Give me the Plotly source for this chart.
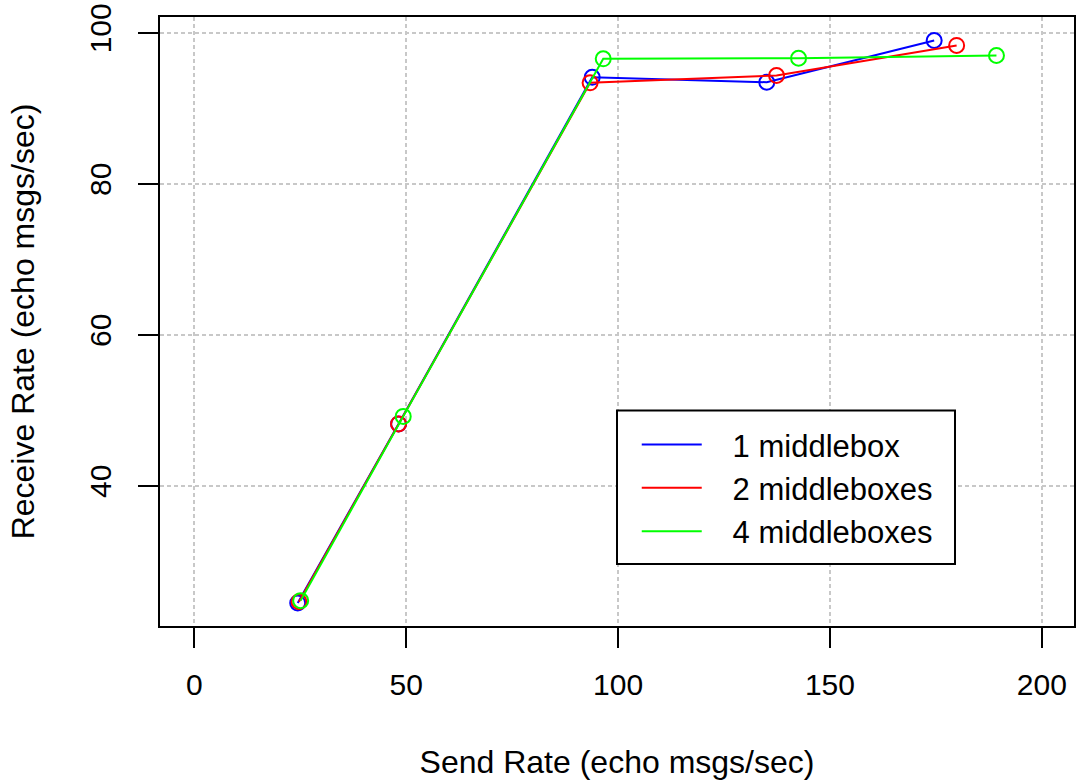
import plotly.graph_objects as go

series_names = ["1 middlebox", "2 middleboxes", "4 middleboxes"]
series_colors = ["#0000FF", "#FF0000", "#00FF00"]

send_1mb = [24.4, 48.2, 93.9, 135.1, 174.6]
recv_1mb = [24.5, 48.2, 94.1, 93.45, 98.98]

send_2mb = [24.7, 48.2, 93.4, 137.4, 179.9]
recv_2mb = [24.65, 48.2, 93.37, 94.34, 98.32]

send_4mb = [25.1, 49.3, 96.5, 142.6, 189.3]
recv_4mb = [24.8, 49.2, 96.55, 96.63, 96.99]

x_ticks = [0, 50, 100, 150, 200]
y_ticks = [40, 60, 80, 100]

FONT = "Liberation Sans, Arial, Helvetica, sans-serif"
NBSP = "\u00a0"

fig = go.Figure()
data = [(send_1mb, recv_1mb), (send_2mb, recv_2mb), (send_4mb, recv_4mb)]
for name, color, (xs, ys) in zip(series_names, series_colors, data):
    fig.add_trace(go.Scatter(x=xs, y=ys, mode="lines", name=NBSP * 3 + name,
                             line=dict(color=color, width=2)))
    fig.add_trace(go.Scatter(x=xs, y=ys, mode="markers", name=name, showlegend=False,
                             marker=dict(symbol="circle-open", size=15, color=color,
                                         line=dict(color=color, width=2))))

axis_common = dict(
    showline=True, linecolor="black", linewidth=2, mirror=True,
    ticks="outside", ticklen=20, tickwidth=2, tickcolor="black",
    showgrid=True, gridcolor="#C8C8C8", gridwidth=1.5, griddash="4px,3px",
    zeroline=False, tickfont=dict(family=FONT, size=30, color="black"),
)

fig.update_xaxes(range=[-8.1, 207.6], tickvals=x_ticks, ticktext=[str(v) for v in x_ticks],
                 title=dict(text="Send Rate (echo msgs/sec)", font=dict(family=FONT, size=32, color="black"), standoff=52),
                 ticklabelstandoff=11, **axis_common)
fig.update_yaxes(range=[21.44, 102.09], tickvals=y_ticks, ticktext=[str(v) for v in y_ticks],
                 tickangle=-90,
                 title=dict(text="Receive Rate (echo msgs/sec)", font=dict(family=FONT, size=32, color="black"), standoff=40),
                 ticklabelstandoff=15, **axis_common)

fig.add_shape(type="rect", xref="paper", yref="paper", x0=0.5, x1=0.8698, y0=0.1019, y1=0.3538,
              line=dict(color="black", width=2), fillcolor="white", layer="above")

fig.update_layout(
    width=1076, height=780,
    margin=dict(l=160, r=2, t=17, b=154, autoexpand=False),
    plot_bgcolor="white", paper_bgcolor="white",
    font=dict(family=FONT, size=30, color="black"),
    showlegend=True,
    legend=dict(x=0.5216, y=0.2268, xanchor="left", yanchor="middle",
                bgcolor="rgba(0,0,0,0)", borderwidth=0, itemwidth=60,
                font=dict(family=FONT, size=31, color="black")),
)

fig.write_html("out.html")
